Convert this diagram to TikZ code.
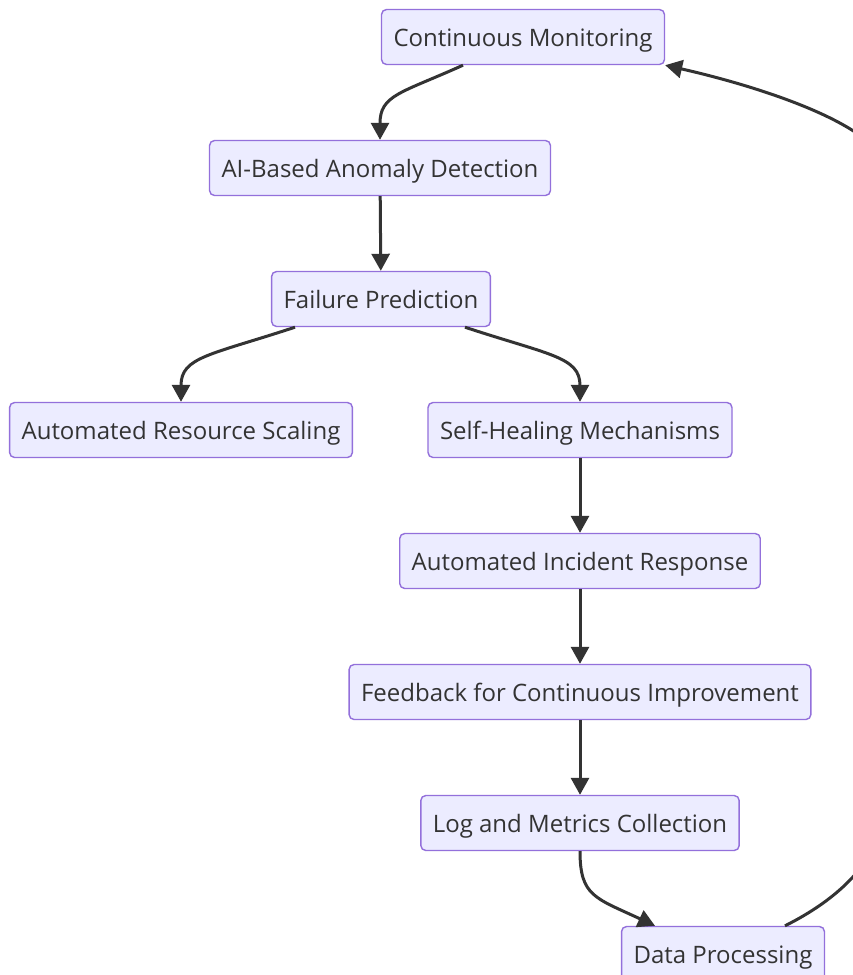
\documentclass[tikz,border=0pt]{standalone}
\usepackage{fontspec}
\setmainfont{Open Sans}
\usepackage{xcolor}
\usetikzlibrary{arrows.meta, positioning}
\definecolor{boxfill}{HTML}{ECECFF}
\definecolor{boxline}{HTML}{9370DB}
\definecolor{ink}{HTML}{333333}
\tikzset{
  flowbox/.style={draw=boxline, fill=boxfill, line width=1.4pt, rounded corners=5pt,
    minimum height=55pt, inner xsep=12pt, text height=20pt, text depth=2pt,
    text=ink, font=\fontsize{24}{28}\selectfont},
  flowedge/.style={draw=ink, line width=3pt, -{Triangle[length=17pt,width=18pt]}}
}
\begin{document}
\begin{tikzpicture}[x=1pt, y=1pt]
	\useasboundingbox (0,0) rectangle (853,-975);
	\fill[white] (0,0) rectangle (853,-975);
	\node[flowbox] (cm) at (523,-37) {Continuous Monitoring};
	\node[flowbox] (ai) at (380,-168) {AI-Based Anomaly Detection};
	\node[flowbox] (fp) at (381,-299) {Failure Prediction};
	\node[flowbox] (ars) at (181,-430) {Automated Resource Scaling};
	\node[flowbox] (shm) at (580,-430) {Self-Healing Mechanisms};
	\node[flowbox] (air) at (580,-561) {Automated Incident Response};
	\node[flowbox] (fb) at (580,-692) {Feedback for Continuous Improvement};
	\node[flowbox] (lmc) at (580,-823) {Log and Metrics Collection};
	\node[flowbox] (dp) at (723,-954) {Data Processing};
	\coordinate (loopdown) at (885,-800);
	\coordinate (loopup) at (885,-170);
	% edges
	\draw[flowedge] ([xshift=-60pt]cm.south) .. controls +(-62,-28) and +(0,45) .. (ai.north);
	\draw[flowedge] (ai) -- (fp);
	\draw[flowedge] ([xshift=-86pt]fp.south) .. controls +(-85,-28) and +(0,45) .. (ars.north);
	\draw[flowedge] ([xshift=84pt]fp.south) .. controls +(85,-28) and +(0,45) .. (shm.north);
	\draw[flowedge] (shm) -- (air);
	\draw[flowedge] (air) -- (fb);
	\draw[flowedge] (fb) -- (lmc);
	\draw[flowedge] (lmc.south) .. controls +(0,-45) and +(-60,28) .. ([xshift=-68pt]dp.north);
	\draw[flowedge] ([xshift=62pt]dp.north) .. controls +(50,25) and +(0,-60) .. (loopdown)
		-- (loopup) .. controls +(0,40) and +(110,-25) .. (cm.south east);
\end{tikzpicture}
\end{document}
